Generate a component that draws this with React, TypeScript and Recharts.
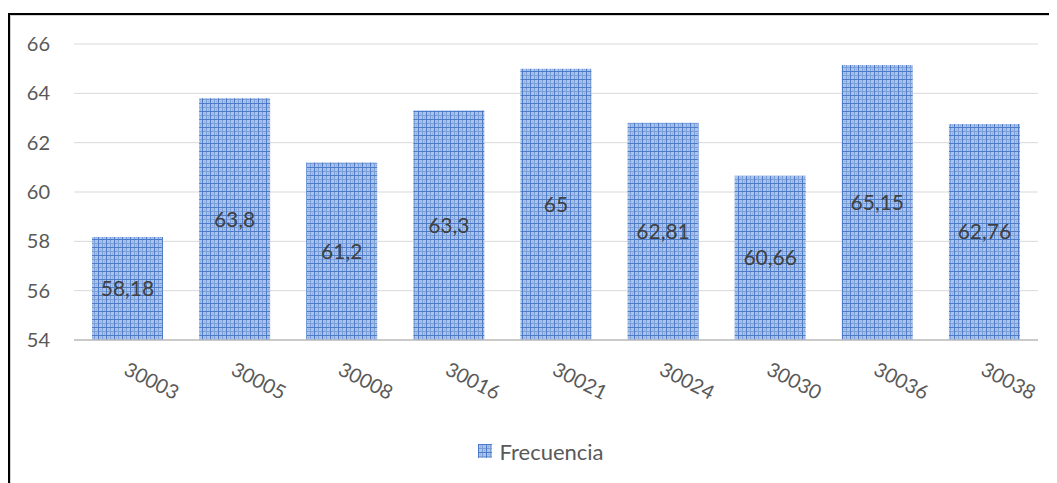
import React from 'react';
import {
  BarChart,
  Bar,
  XAxis,
  YAxis,
  CartesianGrid,
  Legend,
  LabelList,
} from 'recharts';

const codes = ['30003', '30005', '30008', '30016', '30021', '30024', '30030', '30036', '30038'];
const frecuencia = [58.18, 63.8, 61.2, 63.3, 65, 62.81, 60.66, 65.15, 62.76];
const yTicks = [54, 56, 58, 60, 62, 64, 66];

const data = codes.map((code, i) => ({ code, frecuencia: frecuencia[i] }));

const FONT = 'Lato, "Open Sans", sans-serif';

// plaid fill used by the bars and the legend swatch
const PlaidPattern = ({ id }: { id: string }) => (
  <pattern id={id} width={8} height={8} patternUnits="userSpaceOnUse">
    <rect width={8} height={8} fill="#abc2e9" />
    <rect x={2} y={2} width={1} height={1} fill="#86a5dc" />
    <rect x={6} y={6} width={1} height={1} fill="#86a5dc" />
    <rect x={4} y={0} width={1} height={8} fill="#7b9dd8" />
    <rect x={0} y={4} width={8} height={1} fill="#7b9dd8" />
    <rect x={0} y={0} width={1} height={8} fill="#4c7bc9" />
    <rect x={0} y={0} width={8} height={1} fill="#4c7bc9" />
  </pattern>
);

const RotatedTick = (props: any) => {
  const { x, y, payload } = props;
  return (
    <g transform={`translate(${x - 5},${y + 26}) rotate(27)`}>
      <text x={0} y={0} textAnchor="start" fill="#595959" fontSize={20} fontFamily={FONT}>
        {payload.value}
      </text>
    </g>
  );
};

const LegendContent = () => (
  <div
    style={{
      display: 'flex',
      justifyContent: 'center',
      alignItems: 'center',
      height: 24,
      paddingLeft: 34,
    }}
  >
    <svg width={14} height={14} style={{ marginRight: 7 }}>
      <defs>
        <PlaidPattern id="plaid-legend" />
      </defs>
      <rect width={14} height={14} fill="url(#plaid-legend)" />
    </svg>
    <span style={{ fontFamily: FONT, fontSize: 22, color: '#595959' }}>Frecuencia</span>
  </div>
);

export default function App() {
  return (
    <div
      style={{
        marginTop: 5,
        width: 1049,
        height: 470,
        boxSizing: 'border-box',
        borderTop: '2px solid #000',
        borderLeft: '2px solid #000',
        boxShadow: 'inset 1px 1px 0 #d4d4d4',
        background: '#fff',
      }}
    >
      <BarChart
        width={1047}
        height={468}
        data={data}
        margin={{ top: 29, right: 19, left: 0, bottom: 20 }}
        barCategoryGap="16.8%"
      >
        <defs>
          <PlaidPattern id="plaid-bar" />
        </defs>
        <CartesianGrid vertical={false} stroke="#d9d9d9" strokeWidth={1} />
        <XAxis
          dataKey="code"
          height={99}
          tickLine={false}
          axisLine={{ stroke: '#bfbfbf', strokeWidth: 1.5 }}
          tick={<RotatedTick />}
          interval={0}
        />
        <YAxis
          domain={[54, 66]}
          ticks={yTicks}
          width={64}
          axisLine={false}
          tickLine={false}
          tickMargin={18}
          tick={{ fill: '#595959', fontSize: 20, fontFamily: FONT }}
        />
        <Legend verticalAlign="bottom" height={24} content={<LegendContent />} />
        <Bar dataKey="frecuencia" fill="url(#plaid-bar)" isAnimationActive={false}>
          <LabelList
            dataKey="frecuencia"
            position="center"
            fill="#404040"
            fontSize={21}
            fontFamily={FONT}
            formatter={(v: any) => String(v).replace('.', ',')}
          />
        </Bar>
      </BarChart>
    </div>
  );
}
